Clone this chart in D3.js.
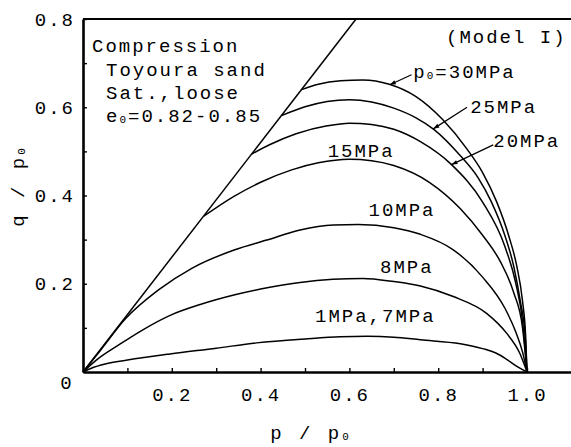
<!DOCTYPE html>
<html>
<head>
<meta charset="utf-8">
<script src="https://cdn.jsdelivr.net/npm/d3@7"></script>
<style>
  body { margin: 0; background: #fff; }
  text { font-family: "Liberation Mono", monospace; font-size: 19px; letter-spacing: 2px; fill: #000; }
  .curve { fill: none; stroke: #000; stroke-width: 1.5; }
</style>
</head>
<body>
<svg id="chart" width="571" height="447"></svg>
<script>
// ticks every 0.1, labels only on the major ones
var xTickValues = [0.1, 0.2, 0.3, 0.4, 0.5, 0.6, 0.7, 0.8, 0.9, 1.0]
var yTickValues = [0.1, 0.2, 0.3, 0.4, 0.5, 0.6, 0.7, 0.8]
var xTickLabels = {0.2: '0.2', 0.4: '0.4', 0.6: '0.6', 0.8: '0.8', 1.0: '1.0'}
var yTickLabels = {0.2: '0.2', 0.4: '0.4', 0.6: '0.6', 0.8: '0.8'}

// critical state line q/p0 = 1.3 p/p0
var cslLine = [[0, 0], [0.615, 0.8]]

// effective stress paths, [p/p0, q/p0]
var path30 = [[0.4925, 0.640], [0.53, 0.652], [0.58, 0.66], [0.63, 0.662], [0.69, 0.652], [0.75, 0.624],
  [0.81, 0.572], [0.865, 0.505], [0.9, 0.452], [0.932, 0.385], [0.96, 0.305], [0.977, 0.24], [0.99, 0.16], [0.997, 0.08], [1, 0]]
var path25 = [[0.447, 0.581], [0.5, 0.601], [0.55, 0.613], [0.6, 0.617], [0.65, 0.612], [0.7, 0.598],
  [0.75, 0.576], [0.79, 0.55], [0.85, 0.49], [0.89, 0.44], [0.92, 0.385], [0.95, 0.31], [0.97, 0.24], [0.985, 0.16], [0.996, 0.08], [1, 0]]
var path20 = [[0.38, 0.494], [0.42, 0.515], [0.48, 0.54], [0.55, 0.558], [0.6, 0.564], [0.65, 0.561],
  [0.7, 0.55], [0.76, 0.522], [0.83, 0.47], [0.9, 0.385], [0.95, 0.285], [0.975, 0.2], [0.99, 0.115], [1, 0]]
var path15 = [[0.272, 0.353], [0.34, 0.398], [0.4, 0.43], [0.47, 0.458], [0.53, 0.474], [0.6, 0.482],
  [0.65, 0.479], [0.7, 0.468], [0.78, 0.43], [0.85, 0.37], [0.9, 0.31], [0.94, 0.25], [0.97, 0.18], [0.99, 0.1], [1, 0]]
var path10 = [[0, 0], [0.04, 0.05], [0.095, 0.12], [0.17, 0.186], [0.245, 0.235], [0.342, 0.277], [0.414, 0.299],
  [0.489, 0.322], [0.564, 0.333], [0.62, 0.334], [0.7, 0.327], [0.76, 0.312], [0.834, 0.277], [0.9, 0.215],
  [0.95, 0.145], [0.975, 0.09], [0.99, 0.045], [1, 0]]
var path8 = [[0, 0], [0.03, 0.027], [0.083, 0.063], [0.132, 0.094], [0.2, 0.13], [0.264, 0.153], [0.342, 0.175],
  [0.4, 0.188], [0.489, 0.203], [0.563, 0.21], [0.63, 0.212], [0.7, 0.205], [0.76, 0.195], [0.834, 0.171],
  [0.909, 0.133], [0.954, 0.088], [0.984, 0.042], [1, 0]]
var path1 = [[0, 0], [0.02, 0.009], [0.05, 0.018], [0.1, 0.027], [0.196, 0.041], [0.3, 0.054], [0.391, 0.066],
  [0.5, 0.075], [0.58, 0.08], [0.64, 0.081], [0.7, 0.079], [0.76, 0.073], [0.85, 0.064], [0.9, 0.053],
  [0.93, 0.043], [0.955, 0.028], [0.98, 0.011], [1, 0]]

// curve labels: text, anchor [p, q]
var pathLabels = [
  {t: '=30MPa', sub: 'p', at: [0.744, 0.666]},
  {t: '25MPa', at: [0.872, 0.587]},
  {t: '20MPa', at: [0.924, 0.511]},
  {t: '15MPa', at: [0.551, 0.488]},
  {t: '10MPa', at: [0.643, 0.354]},
  {t: '8MPa', at: [0.669, 0.224]},
  {t: '1MPa,7MPa', at: [0.5225, 0.114]}
]
// leader lines from label to curve
var leaders = [
  [[0.740, 0.6735], [0.691, 0.651]],
  [[0.865, 0.5998], [0.789, 0.551]],
  [[0.924, 0.5147], [0.830, 0.470]]
]

var svg = d3.select('#chart')
var x = d3.scaleLinear().domain([0, 1.1]).range([83, 571.4])
var y = d3.scaleLinear().domain([0, 0.8]).range([372, 19])

var line = d3.line()
  .x(function(d) { return x(d[0]) })
  .y(function(d) { return y(d[1]) })
  .curve(d3.curveMonotoneX)

svg.append('defs').append('marker')
  .attr('id', 'arr').attr('viewBox', '0 0 10 10').attr('refX', 10).attr('refY', 5)
  .attr('markerWidth', 7).attr('markerHeight', 5).attr('orient', 'auto')
  .append('path').attr('d', 'M0,1.5 L10,5 L0,8.5 Z').attr('fill', '#000')

// axes
svg.append('g').attr('transform', 'translate(0,' + y(0) + ')')
  .call(d3.axisBottom(x).tickValues(xTickValues).tickSize(-4).tickSizeOuter(0).tickPadding(16)
    .tickFormat(function(d) { return xTickLabels[d] || '' }))
svg.append('g').attr('transform', 'translate(' + x(0) + ',0)')
  .call(d3.axisLeft(y).tickValues(yTickValues).tickSize(-4).tickSizeOuter(0).tickPadding(8)
    .tickFormat(function(d) { return yTickLabels[d] || '' }))
svg.selectAll('.domain').attr('stroke-width', 2.6)
svg.selectAll('.tick line').attr('stroke-width', 1.4)
svg.selectAll('.tick text').attr('font-family', null).attr('font-size', null)
  .style('font-family', '"Liberation Mono", monospace').style('font-size', '19px')

// top frame line
svg.append('line').attr('x1', x(0)).attr('x2', x(1.1)).attr('y1', y(0.8)).attr('y2', y(0.8))
  .attr('stroke', '#000').attr('stroke-width', 2)

svg.append('text').attr('x', x(0) - 16).attr('y', y(0) + 17).attr('text-anchor', 'middle').text('0')

// critical state line
svg.append('path').datum(cslLine).attr('class', 'curve').attr('stroke-width', 1.8)
  .attr('d', d3.line().x(function(d) { return x(d[0]) }).y(function(d) { return y(d[1]) }))

svg.selectAll('path.sp').data([path30, path25, path20, path15, path10, path8, path1]).enter()
  .append('path').attr('class', 'curve sp').attr('d', line)

svg.selectAll('line.leader').data(leaders).enter()
  .append('line').attr('class', 'leader')
  .attr('x1', function(d) { return x(d[0][0]) }).attr('y1', function(d) { return y(d[0][1]) })
  .attr('x2', function(d) { return x(d[1][0]) }).attr('y2', function(d) { return y(d[1][1]) })
  .attr('stroke', '#000').attr('stroke-width', 1.2).attr('marker-end', 'url(#arr)')

pathLabels.forEach(function(l) {
  var t = svg.append('text').attr('x', x(l.at[0])).attr('y', y(l.at[1]))
  if (l.sub) {
    t.append('tspan').text(l.sub)
    t.append('tspan').attr('font-size', '11px').attr('dy', 1).text('0')
    t.append('tspan').attr('dy', -1).text(l.t)
  } else {
    t.text(l.t)
  }
})

svg.append('text').attr('x', x(0.8176)).attr('y', y(0.745)).text('(Model I)')

// info block
var info = svg.append('g').style('letter-spacing', '2.5px')
info.append('text').attr('x', 92).attr('y', 52).text('Compression')
info.append('text').attr('x', 106).attr('y', 75.5).text('Toyoura sand')
info.append('text').attr('x', 106).attr('y', 99).text('Sat.,loose')
var e0 = info.append('text').attr('x', 106).attr('y', 122)
e0.append('tspan').text('e')
e0.append('tspan').attr('font-size', '11px').attr('dy', 1).text('0')
e0.append('tspan').attr('dy', -1).text('=0.82-0.85')

// axis titles
var xt = svg.append('text').attr('x', 311).attr('y', 439).attr('text-anchor', 'middle').style('letter-spacing', '3px')
xt.append('tspan').text('p / p')
xt.append('tspan').attr('font-size', '11px').attr('dy', 1).text('0')

var yt = svg.append('text').attr('transform', 'translate(24,186) rotate(-90)').attr('text-anchor', 'middle').style('letter-spacing', '3px')
yt.append('tspan').text('q / p')
yt.append('tspan').attr('font-size', '11px').attr('dy', 1).text('0')
</script>
</body>
</html>
